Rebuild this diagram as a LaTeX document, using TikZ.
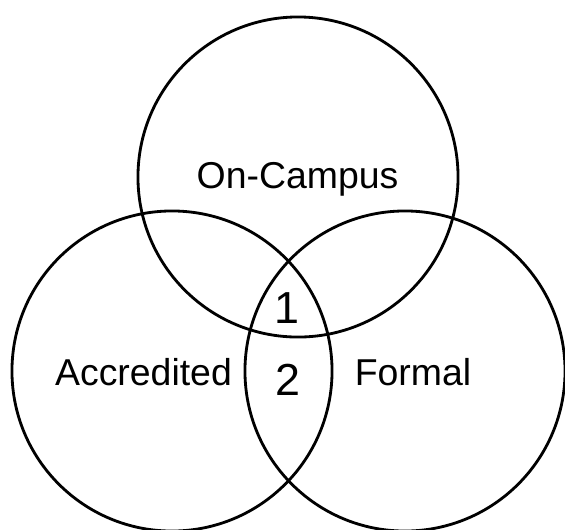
\documentclass[tikz,border=0pt]{standalone}
\usepackage{fontspec}
\setmainfont{Liberation Sans}
\usetikzlibrary{positioning}
\tikzset{
  every node/.style={inner sep=0pt, outer sep=0pt},
  set/.style={draw, circle, line width=2pt, minimum size=8cm},
  setlabel/.style={anchor=base, font=\fontsize{26.6}{30}\selectfont},
  region/.style={anchor=base, font=\fontsize{31.9}{36}\selectfont},
}
\begin{document}
\begin{tikzpicture}[x=0.025cm, y=-0.025cm]
      \useasboundingbox (0,0) rectangle (565,529);

      % --- Sets ---
      \node[set] (campus) at (298,177) {};
      \node[set] (accred) at (172,371) {};
      \node[set] (formal) at (405,371) {};

      % --- Labels ---
      \node[setlabel] (campuslbl) at (297.5,188) {On-Campus};
      \node[setlabel] (accredlbl) at (143.5,385) {Accredited};
      \node[setlabel] (formallbl) at (413,385) {Formal};

      % --- Regions ---
      \node[region] (one) at (287,323) {1};
      \node[region] (two) at (287.5,395) {2};

    \end{tikzpicture}
\end{document}
